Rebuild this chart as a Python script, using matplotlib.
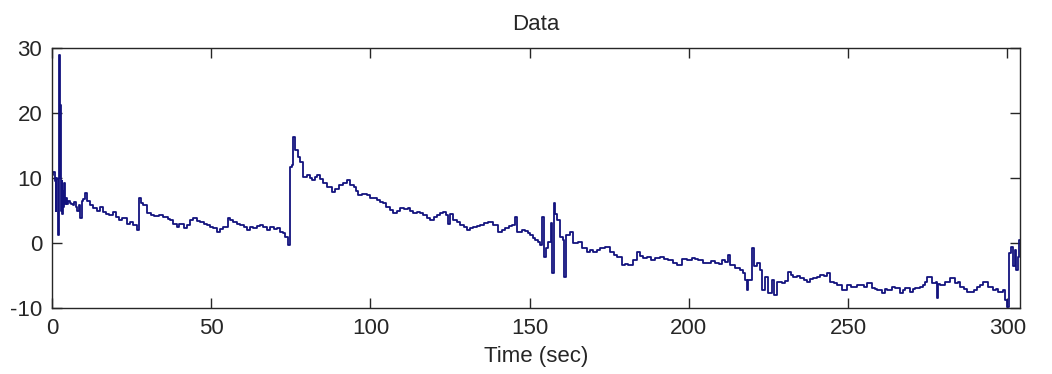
import matplotlib
matplotlib.use("Agg")
import matplotlib.pyplot as plt

# ---- data ----
time_s = [
    0.0, 0.4, 0.8, 1.1, 1.4, 1.7, 2.0, 2.2, 2.4, 2.6, 2.8, 3.0, 3.2, 3.4, 3.6, 3.8,
    4.0, 4.3, 4.6, 5.0, 5.5, 6.0, 6.5, 7.0, 7.5, 8.0, 8.5, 8.8, 9.4, 9.8, 10.4,
    11.0, 12.0, 13.0, 14.0, 15.0, 16.0, 17.0, 18.0, 19.0, 20.0, 21.0, 22.0, 23.5,
    24.5, 25.5, 26.7, 27.4, 28.0, 28.6, 29.7, 31.0, 32.0, 33.5, 35.0, 36.5, 37.0,
    38.0, 39.2, 40.0, 41.3, 42.3, 43.4, 44.4, 45.5, 46.5, 47.6, 48.6, 49.7, 50.7,
    51.8, 52.8, 53.8, 55.3, 56.0, 56.9, 58.0, 59.0, 60.2, 61.2, 62.2, 63.2, 64.3,
    65.3, 66.4, 67.5, 68.5, 69.6, 70.7, 71.6, 72.4, 73.2, 74.2, 74.8, 75.3, 75.8,
    76.3, 77.3, 78.0, 78.8, 80.0, 81.0, 81.7, 82.5, 83.2, 84.2, 85.2, 86.5, 87.9,
    89.0, 90.0, 91.3, 92.6, 93.6, 94.7, 95.5, 96.2, 97.5, 98.8, 100.0, 101.0,
    102.0, 103.0, 104.0, 105.0, 106.0, 107.0, 108.2, 109.3, 110.5, 111.8, 112.5,
    113.4, 114.7, 115.6, 116.6, 117.7, 118.8, 120.0, 121.0, 122.0, 122.9, 123.8,
    124.4, 124.9, 126.0, 127.1, 128.2, 129.3, 130.4, 131.4, 132.3, 133.4, 134.5,
    135.8, 137.0, 138.5, 140.0, 141.2, 142.3, 143.4, 144.5, 145.5, 146.0, 147.7,
    148.6, 149.6, 150.2, 151.0, 151.7, 152.5, 153.3, 154.0, 154.5, 155.0, 155.8,
    156.7, 157.0, 157.5, 158.0, 158.6, 159.6, 160.6, 160.9, 161.5, 162.7, 163.7,
    165.3, 166.5, 168.0, 169.0, 170.0, 171.0, 172.2, 173.8, 175.3, 176.4, 177.5,
    179.0, 180.0, 181.0, 182.5, 183.8, 184.8, 185.7, 187.0, 188.0, 189.5, 191.0,
    192.2, 193.5, 195.0, 196.4, 198.0, 199.5, 201.0, 202.0, 203.0, 204.5, 205.8,
    207.0, 208.3, 209.5, 210.5, 211.5, 212.4, 213.0, 214.6, 216.1, 217.0, 217.7,
    218.4, 218.7, 219.9, 220.5, 221.5, 222.4, 223.0, 224.0, 225.0, 226.2, 226.6,
    227.7, 229.3, 230.3, 231.2, 232.0, 232.8, 234.0, 235.0, 236.1, 237.2, 238.1,
    239.0, 240.2, 241.3, 242.4, 243.5, 244.4, 245.5, 246.6, 248.2, 249.8, 250.8,
    251.7, 252.8, 253.8, 255.0, 256.0, 257.6, 258.4, 259.2, 260.8, 261.5, 262.3,
    263.9, 264.8, 266.4, 267.2, 268.0, 269.6, 270.3, 271.1, 272.7, 273.5, 274.3,
    274.9, 276.5, 277.6, 278.0, 278.4, 279.0, 280.6, 282.0, 283.7, 284.5, 285.3,
    286.4, 287.4, 289.4, 290.5, 291.5, 292.5, 294.0, 295.6, 296.4, 297.2, 298.8,
    299.4, 300.0, 300.7, 301.3, 301.9, 302.3, 302.9, 303.4, 303.8, 304.0,
]

signal = [
    10.5, 11.0, 9.5, 5.0, 10.0, 9.8, 1.2, 28.9, 10.0, 21.2, 5.0, 9.5, 4.5, 8.0, 5.5, 9.2,
    6.0, 7.0, 6.0, 6.5, 6.2, 6.0, 5.8, 6.3, 5.5, 5.0, 5.8, 3.8, 6.5, 6.8, 7.7,
    6.4, 5.8, 5.4, 5.0, 5.5, 4.8, 4.4, 4.3, 4.7, 4.0, 3.6, 3.8, 3.0,
    3.3, 2.8, 2.0, 6.9, 6.2, 5.8, 4.6, 4.3, 4.1, 4.3, 4.0, 3.7, 3.5,
    3.0, 2.5, 2.9, 2.3, 2.7, 3.5, 3.8, 3.4, 3.3, 3.0, 2.8, 2.5, 2.3,
    1.7, 2.1, 2.5, 3.8, 3.5, 3.3, 3.0, 2.8, 2.4, 2.0, 2.4, 2.3, 2.6,
    2.8, 2.5, 2.0, 2.5, 2.2, 2.3, 1.7, 1.5, 0.9, -0.3, 11.7, 12.0, 16.3,
    14.3, 13.2, 12.5, 10.2, 10.5, 10.0, 9.7, 10.2, 10.5, 9.8, 9.2, 8.6, 7.9,
    8.3, 8.9, 9.2, 9.7, 9.0, 8.6, 8.0, 7.4, 7.6, 7.4, 7.0, 6.9,
    6.6, 6.3, 6.2, 5.6, 5.1, 4.6, 5.0, 5.4, 5.2, 5.4, 4.9,
    4.6, 4.8, 4.6, 4.3, 3.9, 3.5, 4.0, 4.3, 4.6, 4.8, 4.3,
    3.0, 4.5, 3.5, 3.2, 2.8, 2.4, 2.0, 2.3, 2.5, 2.6, 2.8,
    3.1, 3.3, 2.8, 1.7, 2.0, 2.3, 2.6, 2.8, 4.0, 1.7, 2.0,
    1.8, 1.5, 1.2, 0.8, 0.5, 0.2, -0.3, 4.0, -2.1, -0.8, 0.2,
    3.1, -4.6, 6.1, 4.5, 3.5, 0.9, 0.5, -5.2, 1.2, 1.7, 0.0,
    0.2, -0.8, -1.4, -1.1, -1.4, -1.0, -0.8, -0.6, -1.4, -1.8, -2.1,
    -3.4, -3.2, -3.4, -2.6, -1.4, -2.0, -2.3, -2.1, -2.6, -2.3, -2.1,
    -2.4, -2.6, -3.1, -3.4, -2.5, -2.6, -2.3, -2.5, -2.6, -3.1, -3.0,
    -2.8, -3.1, -3.3, -2.6, -2.9, -1.8, -3.4, -3.8, -4.1, -4.6, -5.7,
    -7.2, -5.7, -0.8, -3.6, -3.1, -4.1, -7.2, -5.2, -7.7, -5.7, -8.0,
    -6.0, -6.2, -5.8, -4.5, -4.9, -5.2, -5.0, -5.4, -5.7, -6.0, -5.6,
    -5.4, -5.2, -4.9, -5.1, -4.6, -6.0, -6.2, -6.5, -7.2, -6.5, -6.8,
    -6.7, -6.4, -6.5, -6.8, -6.2, -6.9, -7.0, -7.2, -7.7, -7.0, -7.2,
    -6.7, -6.9, -7.7, -7.2, -6.9, -7.5, -7.1, -6.9, -6.7, -6.4, -6.0,
    -5.2, -6.2, -6.0, -8.5, -6.3, -6.5, -6.0, -5.4, -6.2, -6.0, -6.7,
    -7.0, -7.5, -7.2, -6.8, -6.5, -6.0, -6.7, -7.2, -7.0, -7.5, -7.2,
    -8.8, -9.8, -1.6, -0.6, -3.6, -1.0, -4.1, -2.1, 0.5, 0.5,
]

x_ticks = [0, 50, 100, 150, 200, 250, 300]
y_ticks = [-10, 0, 10, 20, 30]
title_text = "Data"
x_label = "Time (sec)"

plt.rcParams['font.family'] = ['Liberation Sans', 'DejaVu Sans']
plt.rcParams['axes.unicode_minus'] = False

fig = plt.figure(figsize=(10.52, 3.74), dpi=100)
ax = fig.add_axes([52 / 1052, 66 / 374, 968 / 1052, 260 / 374])

ax.plot(time_s, signal, color='#13137e', linewidth=1.3, drawstyle='steps-post')

ax.set_xlim(0, 304)
ax.set_ylim(-10, 30)
ax.set_xticks(x_ticks)
ax.set_yticks(y_ticks)
ax.tick_params(direction='in', length=7, width=1, top=True, right=True,
               labelsize=16, pad=7, colors='#262626', labelcolor='#262626')
for s in ax.spines.values():
    s.set_linewidth(1.0)
    s.set_color('#262626')

ax.set_title(title_text, fontsize=16, pad=13, color='#262626')
ax.set_xlabel(x_label, fontsize=16, labelpad=5, color='#262626')

fig.savefig("out.png", dpi=100)
